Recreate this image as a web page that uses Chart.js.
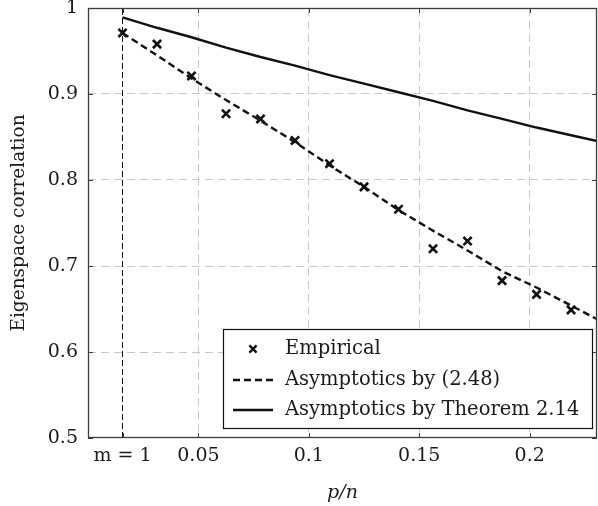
<!DOCTYPE html>
<html>
<head>
<meta charset="utf-8">
<script src="https://cdn.jsdelivr.net/npm/chart.js@4/dist/chart.umd.min.js"></script>
<style>
  html, body { margin: 0; padding: 0; background: #fff; }
  #wrap { width: 598px; height: 506px; }
</style>
</head>
<body>
<div id="wrap"><canvas id="c" width="598" height="506"></canvas></div>
<script>
// ---- data ----
const pnEmpirical = [0.015625, 0.03125, 0.046875, 0.0625, 0.078125, 0.09375, 0.109375,
                     0.125, 0.140625, 0.15625, 0.171875, 0.1875, 0.203125, 0.21875];
const empirical = [0.971, 0.958, 0.921, 0.877, 0.871, 0.846, 0.819,
                   0.792, 0.766, 0.720, 0.729, 0.683, 0.667, 0.649];
const pnCurve = [0.015625, 0.03125, 0.046875, 0.0625, 0.078125, 0.09375, 0.109375,
                 0.125, 0.140625, 0.15625, 0.171875, 0.1875, 0.203125, 0.21875, 0.234375];
const asym248 = [0.971, 0.945, 0.918, 0.893, 0.869, 0.844, 0.817,
                 0.792, 0.765, 0.741, 0.718, 0.694, 0.675, 0.654, 0.633];
const asymThm = [0.989, 0.977, 0.966, 0.954, 0.943, 0.933, 0.922,
                 0.912, 0.902, 0.892, 0.881, 0.871, 0.861, 0.852, 0.843];
const mLineX = [0.015625, 0.015625];
const mLineY = [0.5, 1.0];
const xTickValues = [0.015625, 0.05, 0.1, 0.15, 0.2];
const xTickLabels = ['m = 1', '0.05', '0.1', '0.15', '0.2'];
const yTickValues = [0.5, 0.6, 0.7, 0.8, 0.9, 1.0];
const yTickLabels = ['0.5', '0.6', '0.7', '0.8', '0.9', '1'];
const seriesLabels = ['Empirical', 'Asymptotics by (2.48)', 'Asymptotics by Theorem 2.14'];

const FONT = '"DejaVu Serif", "Liberation Serif", serif';
const TXT = '#1a1a1a';
const AXIS = '#3c3c3c';

const toXY = (xs, ys) => xs.map((x, i) => ({ x: x, y: ys[i] }));

const frameAndLegend = {
  id: 'frameAndLegend',
  afterDatasetsDraw(chart) {
    const { ctx, chartArea: a, scales } = chart;
    ctx.save();
    ctx.strokeStyle = AXIS;
    ctx.lineWidth = 1;
    ctx.setLineDash([]);
    const tl = 5;
    xTickValues.forEach(v => {
      const px = Math.round(scales.x.getPixelForValue(v)) + 0.5;
      ctx.beginPath();
      ctx.moveTo(px, a.bottom); ctx.lineTo(px, a.bottom - tl);
      ctx.moveTo(px, a.top); ctx.lineTo(px, a.top + tl);
      ctx.stroke();
    });
    yTickValues.forEach(v => {
      const py = Math.round(scales.y.getPixelForValue(v)) + 0.5;
      ctx.beginPath();
      ctx.moveTo(a.left, py); ctx.lineTo(a.left + tl, py);
      ctx.moveTo(a.right, py); ctx.lineTo(a.right - tl, py);
      ctx.stroke();
    });
    ctx.lineWidth = 1.3;
    ctx.strokeRect(a.left + 0.5, a.top + 0.5, a.right - a.left - 1, a.bottom - a.top - 1);
    ctx.restore();
  },
  afterDraw(chart) {
    const { ctx } = chart;
    const ds = chart.data.datasets;
    const box = { x: 223.5, y: 329.5, w: 369, h: 99 };
    ctx.save();
    ctx.fillStyle = '#fff';
    ctx.fillRect(box.x, box.y, box.w, box.h);
    ctx.strokeStyle = '#111';
    ctx.lineWidth = 1.2;
    ctx.setLineDash([]);
    ctx.strokeRect(box.x, box.y, box.w, box.h);
    const rows = [349, 380, 410];
    const sx0 = 233, sx1 = 273, tx = 285;
    ctx.font = '19.5px ' + FONT;
    ctx.fillStyle = TXT;
    ctx.textBaseline = 'middle';
    ctx.textAlign = 'left';
    const d0 = ds[0];
    ctx.strokeStyle = d0.borderColor;
    ctx.lineWidth = 2.4;
    const cx = 253, cy = rows[0], r = 3.6;
    ctx.beginPath();
    ctx.moveTo(cx - r, cy - r); ctx.lineTo(cx + r, cy + r);
    ctx.moveTo(cx - r, cy + r); ctx.lineTo(cx + r, cy - r);
    ctx.stroke();
    ctx.fillText(d0.label, tx, cy);
    [1, 2].forEach((k, j) => {
      const d = ds[k];
      ctx.strokeStyle = d.borderColor;
      ctx.lineWidth = d.borderWidth;
      ctx.setLineDash(d.borderDash || []);
      ctx.beginPath();
      ctx.moveTo(sx0, rows[j + 1]); ctx.lineTo(sx1, rows[j + 1]);
      ctx.stroke();
      ctx.setLineDash([]);
      ctx.fillText(d.label, tx, rows[j + 1]);
    });
    ctx.restore();
  }
};

new Chart(document.getElementById('c'), {
  type: 'scatter',
  data: {
    datasets: [
      {
        label: seriesLabels[0],
        data: toXY(pnEmpirical, empirical),
        showLine: false,
        pointStyle: 'crossRot',
        pointRadius: 5.8,
        pointBorderWidth: 2.6,
        borderColor: '#111',
        backgroundColor: '#111',
        order: 1
      },
      {
        label: seriesLabels[1],
        data: toXY(pnCurve, asym248),
        showLine: true,
        pointRadius: 0,
        borderColor: '#111',
        borderWidth: 2.4,
        borderDash: [7, 4],
        fill: false,
        tension: 0,
        order: 2
      },
      {
        label: seriesLabels[2],
        data: toXY(pnCurve, asymThm),
        showLine: true,
        pointRadius: 0,
        borderColor: '#111',
        borderWidth: 2.4,
        fill: false,
        tension: 0,
        order: 3
      },
      {
        label: 'm = 1',
        data: toXY(mLineX, mLineY),
        showLine: true,
        pointRadius: 0,
        borderColor: '#111',
        borderWidth: 1,
        borderDash: [6, 3],
        fill: false,
        order: 4
      }
    ]
  },
  options: {
    responsive: false,
    animation: false,
    devicePixelRatio: 1,
    layout: { autoPadding: false, padding: { top: 8, right: 1, left: 0, bottom: 0 } },
    plugins: { legend: { display: false }, tooltip: { enabled: false } },
    scales: {
      x: {
        type: 'linear',
        min: 0,
        max: 0.2305,
        afterBuildTicks: s => { s.ticks = xTickValues.map(v => ({ value: v })); },
        afterFit: s => { s.height = 68; s.paddingLeft = 0; s.paddingRight = 0; },
        ticks: {
          autoSkip: false,
          maxRotation: 0,
          padding: 7,
          color: TXT,
          font: { family: FONT, size: 19 },
          callback: (v, i) => xTickLabels[i]
        },
        grid: {
          drawTicks: false,
          color: ctx => (ctx.tick && ctx.tick.value === xTickValues[0]) ? 'rgba(0,0,0,0)' : '#c8c8c8',
          lineWidth: 1
        },
        border: { display: false, dash: [8, 5] },
        title: {
          display: true,
          text: 'p/n',
          color: TXT,
          font: { family: FONT, size: 19, style: 'italic' },
          padding: { top: 0, bottom: 2 }
        }
      },
      y: {
        type: 'linear',
        min: 0.5,
        max: 1,
        afterBuildTicks: s => { s.ticks = yTickValues.map(v => ({ value: v })); },
        afterFit: s => { s.width = 88; s.paddingTop = 0; s.paddingBottom = 0; },
        ticks: {
          padding: 10,
          color: TXT,
          font: { family: FONT, size: 19 },
          callback: (v, i) => yTickLabels[i]
        },
        grid: {
          drawTicks: false,
          color: ctx => (ctx.tick && (ctx.tick.value === 0.5 || ctx.tick.value === 1)) ? 'rgba(0,0,0,0)' : '#c8c8c8',
          lineWidth: 1
        },
        border: { display: false, dash: [8, 5] },
        title: {
          display: true,
          text: 'Eigenspace correlation',
          color: TXT,
          font: { family: FONT, size: 18.5 },
          padding: { top: 8, bottom: 0 }
        }
      }
    }
  },
  plugins: [frameAndLegend]
});
</script>
</body>
</html>
